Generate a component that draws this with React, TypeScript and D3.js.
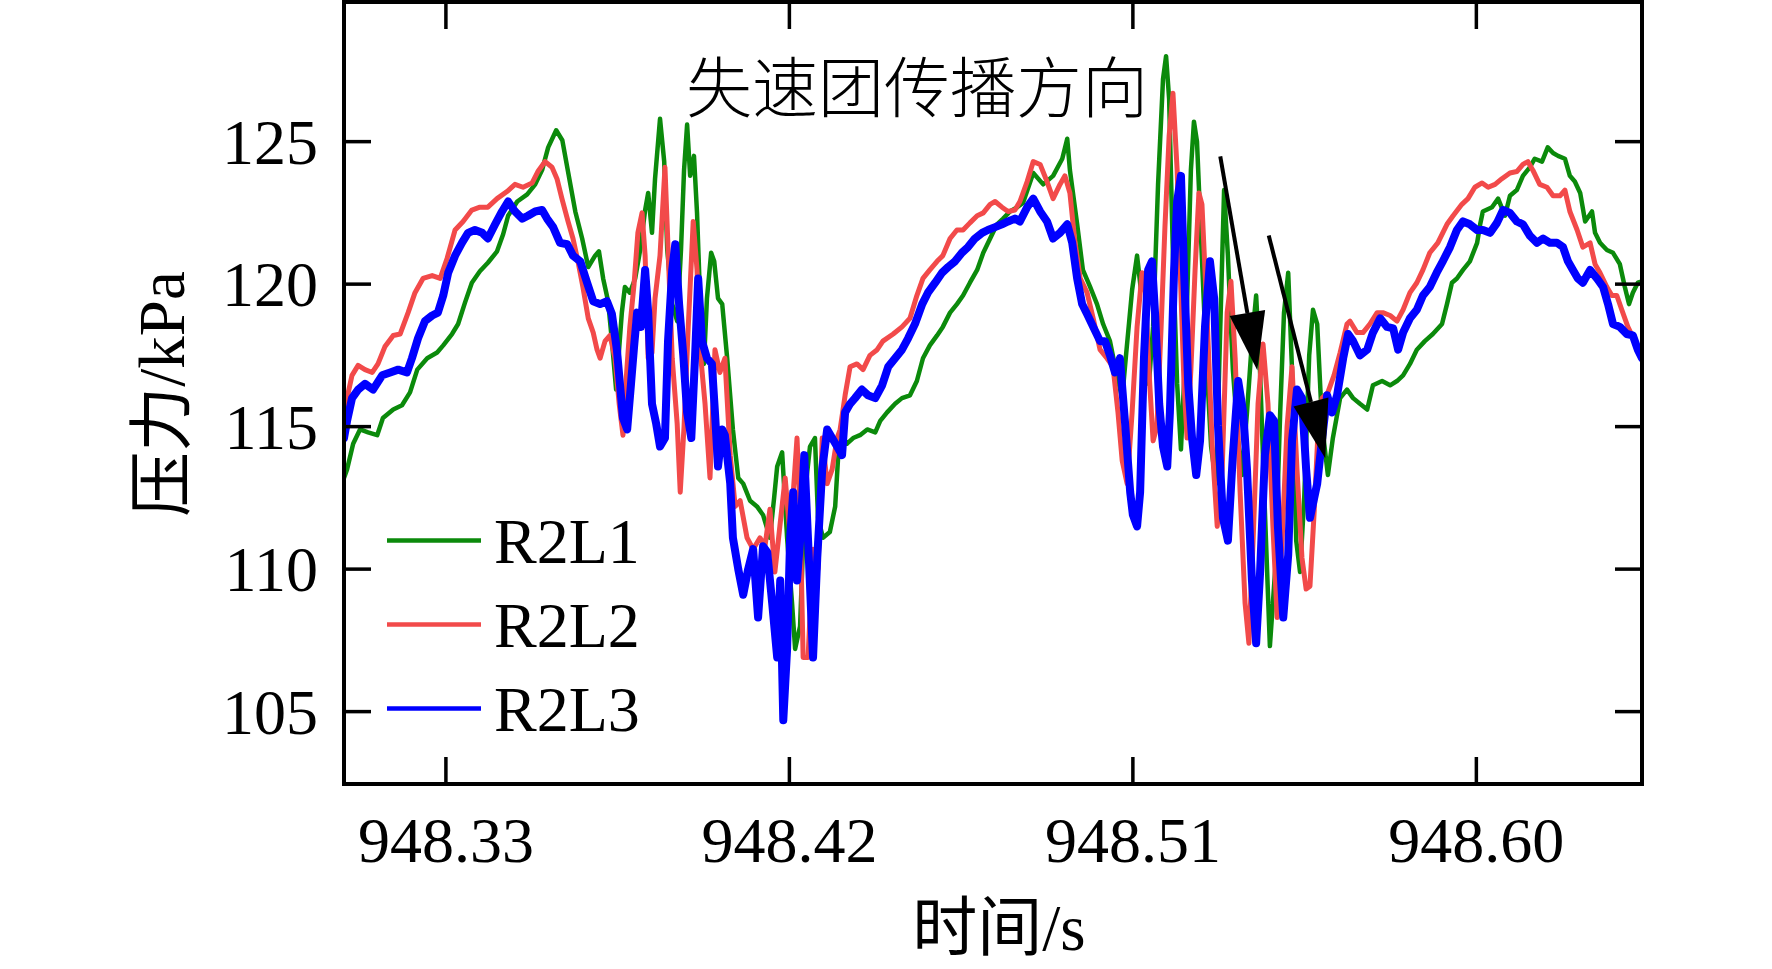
// @ts-nocheck
import { useEffect, useRef } from 'react';
import * as d3 from 'd3';

// [time (s), pressure (kPa)]
const r2l1 = [
  [948.3033,113.2],[948.3041,113.5],[948.3057,114.4],[948.3075,114.9],[948.3096,114.8],[948.3120,114.7],[948.3135,115.3],[948.3162,115.6],[948.3185,115.75],[948.3206,116.2],
  [948.3225,117.0],[948.3251,117.4],[948.3277,117.6],[948.3293,117.85],[948.3316,118.25],[948.3332,118.6],[948.3350,119.35],[948.3368,120.05],[948.3389,120.45],[948.3410,120.75],
  [948.3434,121.15],[948.3450,121.75],[948.3463,122.4],[948.3487,122.9],[948.3513,123.15],[948.3534,123.5],[948.3552,124.0],[948.3568,124.8],[948.3589,125.4],[948.3605,125.05],
  [948.3620,123.95],[948.3639,122.55],[948.3657,121.6],[948.3673,120.6],[948.3691,121.0],[948.3701,121.15],[948.3712,120.2],[948.3725,119.4],[948.3735,118.0],[948.3746,116.3],
  [948.3761,119.0],[948.3769,119.9],[948.3782,119.7],[948.3796,120.2],[948.3809,121.2],[948.3822,122.6],[948.3830,123.2],[948.3840,121.8],[948.3848,123.7],[948.3861,125.8],
  [948.3872,124.3],[948.3880,121.2],[948.3893,119.3],[948.3906,118.7],[948.3916,121.2],[948.3924,124.0],[948.3932,125.6],[948.3940,123.8],[948.3950,124.5],[948.3958,122.5],
  [948.3966,119.5],[948.3976,117.2],[948.3984,119.5],[948.3995,121.1],[948.4003,120.8],[948.4013,119.5],[948.4024,119.3],[948.4037,117.4],[948.4052,114.9],[948.4066,113.2],
  [948.4079,113.0],[948.4097,112.4],[948.4115,112.2],[948.4131,111.9],[948.4149,111.1],[948.4160,112.5],[948.4168,113.6],[948.4181,114.1],[948.4194,111.1],[948.4207,108.8],
  [948.4215,107.2],[948.4228,108.0],[948.4241,112.7],[948.4254,114.3],[948.4267,114.6],[948.4275,111.8],[948.4288,111.1],[948.4306,111.3],[948.4320,112.2],[948.4328,114.0],
  [948.4338,114.6],[948.4351,114.4],[948.4367,114.6],[948.4385,114.7],[948.4404,114.9],[948.4425,114.8],[948.4438,115.2],[948.4456,115.5],[948.4477,115.8],[948.4495,116.0],
  [948.4516,116.1],[948.4534,116.6],[948.4550,117.4],[948.4568,117.85],[948.4587,118.2],[948.4602,118.5],[948.4621,119.0],[948.4639,119.3],[948.4655,119.6],[948.4673,120.05],
  [948.4692,120.5],[948.4708,121.1],[948.4726,121.6],[948.4744,122.1],[948.4760,122.3],[948.4778,122.55],[948.4797,122.7],[948.4812,122.85],[948.4839,123.9],[948.4865,123.5],
  [948.4891,123.8],[948.4915,124.4],[948.4928,125.1],[948.4935,124.0],[948.4954,122.1],[948.4969,120.5],[948.4988,119.9],[948.5006,119.3],[948.5022,118.6],[948.5040,118.0],
  [948.5058,116.8],[948.5072,116.0],[948.5082,117.5],[948.5098,119.8],[948.5111,121.0],[948.5121,119.8],[948.5132,120.4],[948.5142,116.5],[948.5153,118.5],[948.5166,123.5],
  [948.5179,127.2],[948.5187,128.0],[948.5195,126.5],[948.5205,121.0],[948.5216,116.5],[948.5226,114.2],[948.5239,118.0],[948.5252,124.0],[948.5260,125.7],[948.5268,125.0],
  [948.5279,121.5],[948.5292,117.5],[948.5305,114.3],[948.5318,113.0],[948.5328,118.0],[948.5339,123.3],[948.5349,121.0],[948.5362,117.0],[948.5376,114.5],[948.5386,113.3],
  [948.5399,115.5],[948.5412,118.0],[948.5423,119.6],[948.5433,117.0],[948.5446,112.0],[948.5459,107.3],[948.5473,110.0],[948.5486,115.5],[948.5496,119.0],[948.5507,120.4],
  [948.5517,117.0],[948.5528,111.0],[948.5538,109.9],[948.5549,112.5],[948.5562,117.5],[948.5572,119.1],[948.5583,118.6],[948.5596,115.0],[948.5611,113.3],[948.5624,114.6],
  [948.5643,116.0],[948.5661,116.3],[948.5677,116.0],[948.5695,115.8],[948.5714,115.6],[948.5729,116.45],[948.5753,116.6],[948.5774,116.45],[948.5792,116.6],[948.5808,116.8],
  [948.5826,117.2],[948.5844,117.7],[948.5865,118.0],[948.5886,118.25],[948.5910,118.6],[948.5923,119.3],[948.5936,120.05],[948.5949,120.2],[948.5965,120.5],[948.5983,120.8],
  [948.6002,121.45],[948.6010,122.1],[948.6017,122.55],[948.6041,122.7],[948.6057,123.0],[948.6075,122.4],[948.6088,123.1],[948.6106,123.3],[948.6122,123.8],[948.6140,124.1],
  [948.6153,124.4],[948.6172,124.3],[948.6187,124.8],[948.6201,124.6],[948.6214,124.5],[948.6232,124.4],[948.6245,123.8],[948.6258,123.6],[948.6272,123.2],[948.6285,122.2],
  [948.6303,122.55],[948.6311,121.8],[948.6324,121.45],[948.6342,121.2],[948.6358,121.1],[948.6376,120.7],[948.6389,119.9],[948.6400,119.3],[948.6410,119.7],[948.6423,120.05],
  [948.6434,120.1],
];

const r2l2 = [
  [948.3033,115.4],[948.3041,116.0],[948.3054,116.8],[948.3070,117.15],[948.3088,117.0],[948.3107,116.9],[948.3122,117.2],[948.3140,117.8],[948.3162,118.2],[948.3180,118.25],
  [948.3201,119.0],[948.3219,119.7],[948.3240,120.2],[948.3264,120.3],[948.3285,120.2],[948.3303,120.9],[948.3324,121.9],[948.3345,122.2],[948.3368,122.6],[948.3389,122.7],
  [948.3410,122.7],[948.3434,123.0],[948.3460,123.25],[948.3481,123.5],[948.3502,123.4],[948.3526,123.55],[948.3541,123.95],[948.3560,124.3],[948.3578,124.1],[948.3591,123.7],
  [948.3604,123.0],[948.3620,122.2],[948.3633,121.6],[948.3646,120.8],[948.3659,119.9],[948.3673,118.8],[948.3686,118.3],[948.3696,117.7],[948.3704,117.4],[948.3717,118.0],
  [948.3730,118.2],[948.3743,117.4],[948.3754,115.8],[948.3764,114.7],[948.3772,116.6],[948.3782,118.5],[948.3793,120.0],[948.3803,121.8],[948.3814,122.5],[948.3822,121.0],
  [948.3830,117.4],[948.3840,117.6],[948.3848,119.5],[948.3861,121.0],[948.3874,124.1],[948.3882,121.3],[948.3893,117.4],[948.3906,115.1],[948.3914,112.7],[948.3924,115.0],
  [948.3935,118.5],[948.3948,122.2],[948.3958,120.5],[948.3966,117.7],[948.3979,115.8],[948.3992,113.2],[948.4005,117.7],[948.4018,116.9],[948.4031,117.4],[948.4045,114.0],
  [948.4058,112.2],[948.4071,112.4],[948.4089,111.1],[948.4105,110.7],[948.4123,111.1],[948.4136,110.8],[948.4149,112.1],[948.4162,109.9],[948.4175,111.5],[948.4189,113.2],
  [948.4202,111.1],[948.4220,114.6],[948.4228,112.0],[948.4236,106.9],[948.4249,106.9],[948.4262,110.7],[948.4275,110.0],[948.4286,114.6],[948.4299,113.0],[948.4312,113.5],
  [948.4325,114.6],[948.4333,114.9],[948.4346,116.1],[948.4359,117.1],[948.4377,117.2],[948.4393,117.0],[948.4411,117.5],[948.4430,117.7],[948.4445,118.0],[948.4472,118.25],
  [948.4495,118.5],[948.4516,118.8],[948.4534,119.6],[948.4550,120.2],[948.4568,120.5],[948.4587,120.8],[948.4602,121.0],[948.4621,121.6],[948.4639,121.9],[948.4655,121.9],
  [948.4673,122.15],[948.4692,122.4],[948.4708,122.5],[948.4726,122.8],[948.4739,122.9],[948.4757,122.7],[948.4773,122.55],[948.4791,122.6],[948.4804,122.9],[948.4823,123.6],
  [948.4839,124.3],[948.4857,124.2],[948.4875,123.6],[948.4891,123.0],[948.4909,123.5],[948.4922,123.8],[948.4935,123.2],[948.4948,121.5],[948.4962,120.2],[948.4980,119.7],
  [948.4996,118.8],[948.5014,117.7],[948.5032,117.4],[948.5048,117.1],[948.5061,115.5],[948.5072,113.8],[948.5085,113.0],[948.5098,115.5],[948.5111,118.5],[948.5124,120.4],
  [948.5132,120.0],[948.5142,117.0],[948.5153,114.5],[948.5163,115.0],[948.5174,118.5],[948.5184,122.0],[948.5195,125.2],[948.5205,126.7],[948.5216,124.0],[948.5224,120.5],
  [948.5234,116.5],[948.5242,114.6],[948.5252,117.0],[948.5263,120.5],[948.5273,123.2],[948.5281,122.8],[948.5294,119.0],[948.5308,114.3],[948.5321,111.5],[948.5334,113.5],
  [948.5347,119.0],[948.5357,120.1],[948.5368,117.4],[948.5381,112.7],[948.5394,108.8],[948.5404,107.4],[948.5415,111.0],[948.5428,115.8],[948.5441,117.9],[948.5454,115.8],
  [948.5467,111.5],[948.5478,108.3],[948.5491,111.0],[948.5504,115.0],[948.5517,117.1],[948.5530,113.5],[948.5543,110.4],[948.5554,109.3],[948.5564,109.4],[948.5575,112.0],
  [948.5585,114.8],[948.5596,116.0],[948.5611,116.2],[948.5627,116.8],[948.5643,117.6],[948.5661,118.6],[948.5669,118.7],[948.5687,118.3],[948.5703,118.3],[948.5721,118.6],
  [948.5740,119.0],[948.5755,119.0],[948.5774,118.9],[948.5792,118.7],[948.5808,119.1],[948.5826,119.7],[948.5844,120.05],[948.5860,120.5],[948.5878,121.1],[948.5899,121.45],
  [948.5923,122.1],[948.5939,122.4],[948.5962,122.8],[948.5978,123.0],[948.5996,123.4],[948.6015,123.55],[948.6031,123.4],[948.6049,123.5],[948.6067,123.7],[948.6088,123.9],
  [948.6106,123.95],[948.6122,124.2],[948.6135,124.3],[948.6148,124.0],[948.6166,123.5],[948.6185,123.4],[948.6201,123.1],[948.6219,123.1],[948.6232,123.3],[948.6245,122.55],
  [948.6264,121.9],[948.6279,121.3],[948.6298,121.45],[948.6311,120.7],[948.6324,120.4],[948.6342,119.9],[948.6355,119.6],[948.6368,119.6],[948.6381,119.1],[948.6397,118.5],
  [948.6415,118.0],[948.6434,117.4],
];

const r2l3 = [
  [948.3033,114.6],[948.3041,115.2],[948.3054,116.0],[948.3070,116.3],[948.3088,116.5],[948.3109,116.3],[948.3133,116.8],[948.3154,116.9],[948.3175,117.0],[948.3198,116.9],
  [948.3211,117.4],[948.3227,118.1],[948.3245,118.7],[948.3264,118.9],[948.3279,119.0],[948.3293,119.6],[948.3306,120.4],[948.3324,121.0],[948.3342,121.45],[948.3358,121.8],
  [948.3376,121.9],[948.3395,121.8],[948.3410,121.6],[948.3429,122.1],[948.3447,122.55],[948.3463,122.9],[948.3481,122.55],[948.3500,122.3],[948.3515,122.4],[948.3534,122.55],
  [948.3552,122.6],[948.3565,122.3],[948.3581,122.0],[948.3599,121.45],[948.3618,121.4],[948.3633,121.0],[948.3652,120.8],[948.3670,120.05],[948.3686,119.4],[948.3704,119.3],
  [948.3722,119.4],[948.3735,118.95],[948.3748,117.7],[948.3756,116.5],[948.3764,115.3],[948.3775,114.9],[948.3785,116.5],[948.3793,117.8],[948.3801,119.0],[948.3811,118.5],
  [948.3822,120.5],[948.3830,119.0],[948.3840,115.8],[948.3851,115.1],[948.3861,114.3],[948.3874,114.6],[948.3882,118.0],[948.3893,120.5],[948.3901,121.4],[948.3911,119.3],
  [948.3922,117.5],[948.3932,115.5],[948.3943,114.6],[948.3953,117.5],[948.3961,120.2],[948.3971,118.0],[948.3984,117.4],[948.3997,117.2],[948.4005,115.5],[948.4013,113.6],
  [948.4024,114.9],[948.4031,114.7],[948.4045,113.0],[948.4052,111.1],[948.4066,110.0],[948.4079,109.1],[948.4092,110.0],[948.4105,110.7],[948.4118,108.3],[948.4131,110.8],
  [948.4142,110.6],[948.4155,108.8],[948.4168,106.9],[948.4176,109.6],[948.4184,104.7],[948.4194,107.2],[948.4202,111.1],[948.4210,112.7],[948.4220,109.6],[948.4228,111.0],
  [948.4239,114.0],[948.4249,111.0],[948.4262,106.9],[948.4273,110.4],[948.4286,113.5],[948.4299,114.9],[948.4312,114.6],[948.4325,114.3],[948.4338,114.0],[948.4346,115.5],
  [948.4359,115.8],[948.4372,116.0],[948.4390,116.3],[948.4406,116.1],[948.4425,116.0],[948.4443,116.45],[948.4459,117.1],[948.4477,117.4],[948.4495,117.7],[948.4511,118.1],
  [948.4529,118.6],[948.4548,119.3],[948.4563,119.7],[948.4582,120.05],[948.4600,120.4],[948.4616,120.6],[948.4634,120.8],[948.4652,121.1],[948.4668,121.3],[948.4686,121.6],
  [948.4705,121.8],[948.4720,121.9],[948.4739,122.0],[948.4757,122.1],[948.4773,122.2],[948.4791,122.3],[948.4804,122.2],[948.4823,122.7],[948.4839,123.0],[948.4857,122.55],
  [948.4875,122.2],[948.4891,121.6],[948.4909,121.8],[948.4928,122.1],[948.4941,121.45],[948.4954,120.2],[948.4967,119.3],[948.4980,118.95],[948.4996,118.5],[948.5014,118.0],
  [948.5027,118.0],[948.5040,117.5],[948.5053,116.9],[948.5066,117.4],[948.5080,115.05],[948.5093,112.7],[948.5100,111.9],[948.5111,111.5],[948.5119,112.7],[948.5129,117.4],
  [948.5140,120.5],[948.5150,120.8],[948.5158,119.0],[948.5169,115.8],[948.5179,114.3],[948.5190,113.6],[948.5197,115.5],[948.5208,120.5],[948.5216,122.9],[948.5226,123.8],
  [948.5234,120.5],[948.5245,116.5],[948.5255,114.6],[948.5266,113.3],[948.5276,114.5],[948.5289,118.5],[948.5302,120.8],[948.5313,119.5],[948.5323,115.05],[948.5336,111.8],
  [948.5349,111.0],[948.5362,114.0],[948.5376,116.6],[948.5389,115.5],[948.5399,113.5],[948.5412,109.6],[948.5423,107.4],[948.5433,109.8],[948.5446,114.0],[948.5459,115.4],
  [948.5470,115.2],[948.5480,111.5],[948.5494,108.3],[948.5507,110.5],[948.5517,114.5],[948.5530,116.3],[948.5543,116.0],[948.5554,113.5],[948.5564,111.8],[948.5583,113.0],
  [948.5596,114.6],[948.5609,116.1],[948.5622,115.5],[948.5635,116.1],[948.5651,117.4],[948.5664,118.25],[948.5677,118.0],[948.5695,117.5],[948.5714,117.7],[948.5729,118.3],
  [948.5748,118.8],[948.5766,118.5],[948.5782,118.45],[948.5795,117.7],[948.5808,118.3],[948.5826,118.8],[948.5844,119.1],[948.5860,119.6],[948.5878,119.9],[948.5896,120.4],
  [948.5912,120.8],[948.5931,121.3],[948.5949,121.9],[948.5965,122.2],[948.5983,122.1],[948.6002,121.9],[948.6017,121.9],[948.6036,121.8],[948.6054,122.15],[948.6070,122.6],
  [948.6088,122.5],[948.6106,122.2],[948.6122,122.1],[948.6140,121.7],[948.6159,121.45],[948.6175,121.6],[948.6193,121.45],[948.6211,121.45],[948.6227,121.3],[948.6240,120.8],
  [948.6253,120.5],[948.6266,120.2],[948.6279,120.05],[948.6298,120.5],[948.6316,120.2],[948.6332,119.9],[948.6345,119.3],[948.6358,118.6],[948.6376,118.5],[948.6394,118.25],
  [948.6410,118.2],[948.6423,117.7],[948.6434,117.4],
];

const seriesNames = ['R2L1', 'R2L2', 'R2L3'];
const seriesColors = ['#0b8a0b', '#f24a4a', '#0000ff'];
const xTicks = [948.33, 948.42, 948.51, 948.60];
const yTicks = [105, 110, 115, 120, 125];
const xDomain = [948.3033, 948.6434];
const yDomain = [102.46, 129.9];
const xTitle = '时间/s';
const yTitle = '压力/kPa';
const note = '失速团传播方向';
// direction arrows: start and tip as [time, kPa]
const arrowStarts = [[948.5329, 124.48], [948.5456, 121.71]];
const arrowTips = [[948.5426, 116.98], [948.5604, 113.89]];

const App = () => {
  const svgRef = useRef();

  useEffect(() => {
    const svg = d3.select(svgRef.current);
    svg.selectAll('*').remove();

    const left = 344, right = 1642, top = 2, bottom = 784;
    const x = d3.scaleLinear().domain(xDomain).range([left, right]);
    const y = d3.scaleLinear().domain(yDomain).range([bottom, top]);
    const serif = "'Liberation Serif', 'Times New Roman', 'Noto Sans CJK SC', serif";
    const cjk = "'Noto Sans CJK SC', 'Liberation Serif', serif";

    svg.append('rect').attr('width', 1772).attr('height', 969).attr('fill', '#fff');

    svg.append('defs').append('clipPath').attr('id', 'plot-clip')
      .append('rect')
      .attr('x', left).attr('y', top)
      .attr('width', right - left).attr('height', bottom - top);

    // series lines, green under red under blue
    const line = d3.line().x(d => x(d[0])).y(d => y(d[1]));
    const widths = [4.5, 5, 8];
    const plot = svg.append('g').attr('clip-path', 'url(#plot-clip)');
    [r2l1, r2l2, r2l3].forEach((s, i) => {
      plot.append('path')
        .datum(s)
        .attr('d', line)
        .attr('fill', 'none')
        .attr('stroke', seriesColors[i])
        .attr('stroke-width', widths[i])
        .attr('stroke-linejoin', 'round')
        .attr('stroke-linecap', 'round');
    });

    // arrows
    arrowStarts.forEach((s, i) => {
      const x0 = x(s[0]), y0 = y(s[1]);
      const x1 = x(arrowTips[i][0]), y1 = y(arrowTips[i][1]);
      const len = Math.hypot(x1 - x0, y1 - y0);
      const ux = (x1 - x0) / len, uy = (y1 - y0) / len;
      const headLen = 58, half = 18;
      const bx = x1 - ux * headLen, by = y1 - uy * headLen;
      svg.append('line')
        .attr('x1', x0).attr('y1', y0).attr('x2', bx).attr('y2', by)
        .attr('stroke', '#000').attr('stroke-width', 4);
      svg.append('path')
        .attr('d', `M${x1},${y1}L${bx - uy * half},${by + ux * half}L${bx + uy * half},${by - ux * half}Z`)
        .attr('fill', '#000');
    });

    // frame and inward ticks on all four sides
    svg.append('rect')
      .attr('x', left).attr('y', top)
      .attr('width', right - left).attr('height', bottom - top)
      .attr('fill', 'none').attr('stroke', '#000').attr('stroke-width', 4);

    const tickLen = 27;
    const ticks = svg.append('g').attr('stroke', '#000').attr('stroke-width', 3.5);
    xTicks.forEach(t => {
      ticks.append('line').attr('x1', x(t)).attr('x2', x(t)).attr('y1', bottom).attr('y2', bottom - tickLen);
      ticks.append('line').attr('x1', x(t)).attr('x2', x(t)).attr('y1', top).attr('y2', top + tickLen);
    });
    yTicks.forEach(v => {
      ticks.append('line').attr('x1', left).attr('x2', left + tickLen).attr('y1', y(v)).attr('y2', y(v));
      ticks.append('line').attr('x1', right).attr('x2', right - tickLen).attr('y1', y(v)).attr('y2', y(v));
    });

    // tick labels
    svg.append('g').selectAll('text').data(xTicks).enter().append('text')
      .attr('x', d => x(d)).attr('y', 862)
      .attr('text-anchor', 'middle')
      .style('font-family', serif).style('font-size', '64px')
      .text(d => d.toFixed(2));

    svg.append('g').selectAll('text').data(yTicks).enter().append('text')
      .attr('x', 318).attr('y', d => y(d) + 22)
      .attr('text-anchor', 'end')
      .style('font-family', serif).style('font-size', '64px')
      .text(d => d);

    // axis titles
    svg.append('text')
      .attr('x', 999).attr('y', 950)
      .attr('text-anchor', 'middle')
      .style('font-family', serif).style('font-size', '65px')
      .text(xTitle);

    svg.append('text')
      .attr('transform', 'translate(184, 394) rotate(-90)')
      .attr('text-anchor', 'middle')
      .style('font-family', serif).style('font-size', '65px')
      .text(yTitle);

    // annotation
    svg.append('text')
      .attr('x', 917).attr('y', 112)
      .attr('text-anchor', 'middle')
      .style('font-family', cjk).style('font-size', '66px').style('font-weight', 300)
      .text(note);

    // legend
    const legend = svg.append('g');
    seriesNames.forEach((name, i) => {
      const ly = 540.5 + i * 84;
      legend.append('line')
        .attr('x1', 387).attr('x2', 481).attr('y1', ly).attr('y2', ly)
        .attr('stroke', seriesColors[i]).attr('stroke-width', 4.5);
      legend.append('text')
        .attr('x', 494).attr('y', ly + 22)
        .style('font-family', serif).style('font-size', '64px')
        .text(name);
    });
  }, []);

  return (
    <svg ref={svgRef} width={1772} height={969}
      style={{ position: 'absolute', left: 0, top: 0, background: '#fff' }}></svg>
  );
};

export default App;
